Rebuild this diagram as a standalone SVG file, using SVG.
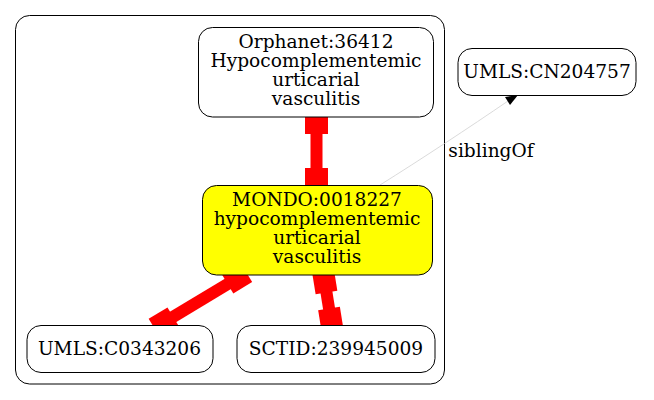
<svg xmlns="http://www.w3.org/2000/svg" width="654" height="400" viewBox="0 0 654 400">
<style>
text{font-family:"DejaVu Serif","Liberation Serif",serif;font-size:18.6px;fill:#000;text-anchor:middle}
.node{fill:#fff;stroke:#000;stroke-width:1}
.red{fill:#f00}
</style>
<rect width="654" height="400" fill="#fff"/>
<g id="cluster">
<rect x="15.5" y="15.5" width="429" height="368.5" rx="14" ry="14" fill="none" stroke="#000" stroke-width="1"/>
</g>
<g id="connectors">
<g id="e1">
<rect class="red" x="310.5" y="122.5" width="12" height="57"/>
<rect class="red" x="305" y="111" width="23" height="23"/>
<rect class="red" x="305" y="168" width="23" height="23"/>
</g>
<g id="e2" transform="translate(163.75,322.5) rotate(-31.1)">
<rect class="red" x="0" y="-6" width="85.6" height="12"/>
<rect class="red" x="-11" y="-11" width="22" height="22"/>
<rect class="red" x="74.6" y="-11" width="22" height="22"/>
</g>
<g id="e3" transform="translate(324.75,281.75) rotate(80.9)">
<rect class="red" x="0" y="-6" width="38" height="12"/>
<rect class="red" x="-11" y="-11" width="22" height="22"/>
<rect class="red" x="27" y="-11" width="22" height="22"/>
</g>
<g id="e4">
<path d="M380,185 C420,160 470,127 508,101" fill="none" stroke="#d0d0d0" stroke-width="0.8"/>
<polygon points="505,97 518,95 510,105" fill="#000"/>
<text x="491" y="157">siblingOf</text>
</g>
</g>
<g id="orphanet">
<rect class="node" x="198.5" y="27.5" width="235" height="89.5" rx="14" ry="14"/>
<text x="316" y="48">Orphanet:36412</text>
<text x="316" y="67">Hypocomplementemic</text>
<text x="316" y="86">urticarial</text>
<text x="316" y="105">vasculitis</text>
</g>
<g id="mondo">
<rect class="node" x="202.5" y="185.5" width="230" height="89.5" rx="14" ry="14" style="fill:#ff0"/>
<text x="317" y="206">MONDO:0018227</text>
<text x="317" y="225">hypocomplementemic</text>
<text x="317" y="244">urticarial</text>
<text x="317" y="263">vasculitis</text>
</g>
<g id="umls1">
<rect class="node" x="27" y="325.5" width="186" height="47" rx="14" ry="14"/>
<text x="119.5" y="355">UMLS:C0343206</text>
</g>
<g id="sctid">
<rect class="node" x="237" y="325.5" width="198" height="47" rx="14" ry="14"/>
<text x="336" y="355">SCTID:239945009</text>
</g>
<g id="umls2">
<rect class="node" x="458" y="48.5" width="178" height="47" rx="14" ry="14"/>
<text x="547" y="78">UMLS:CN204757</text>
</g>
</svg>
